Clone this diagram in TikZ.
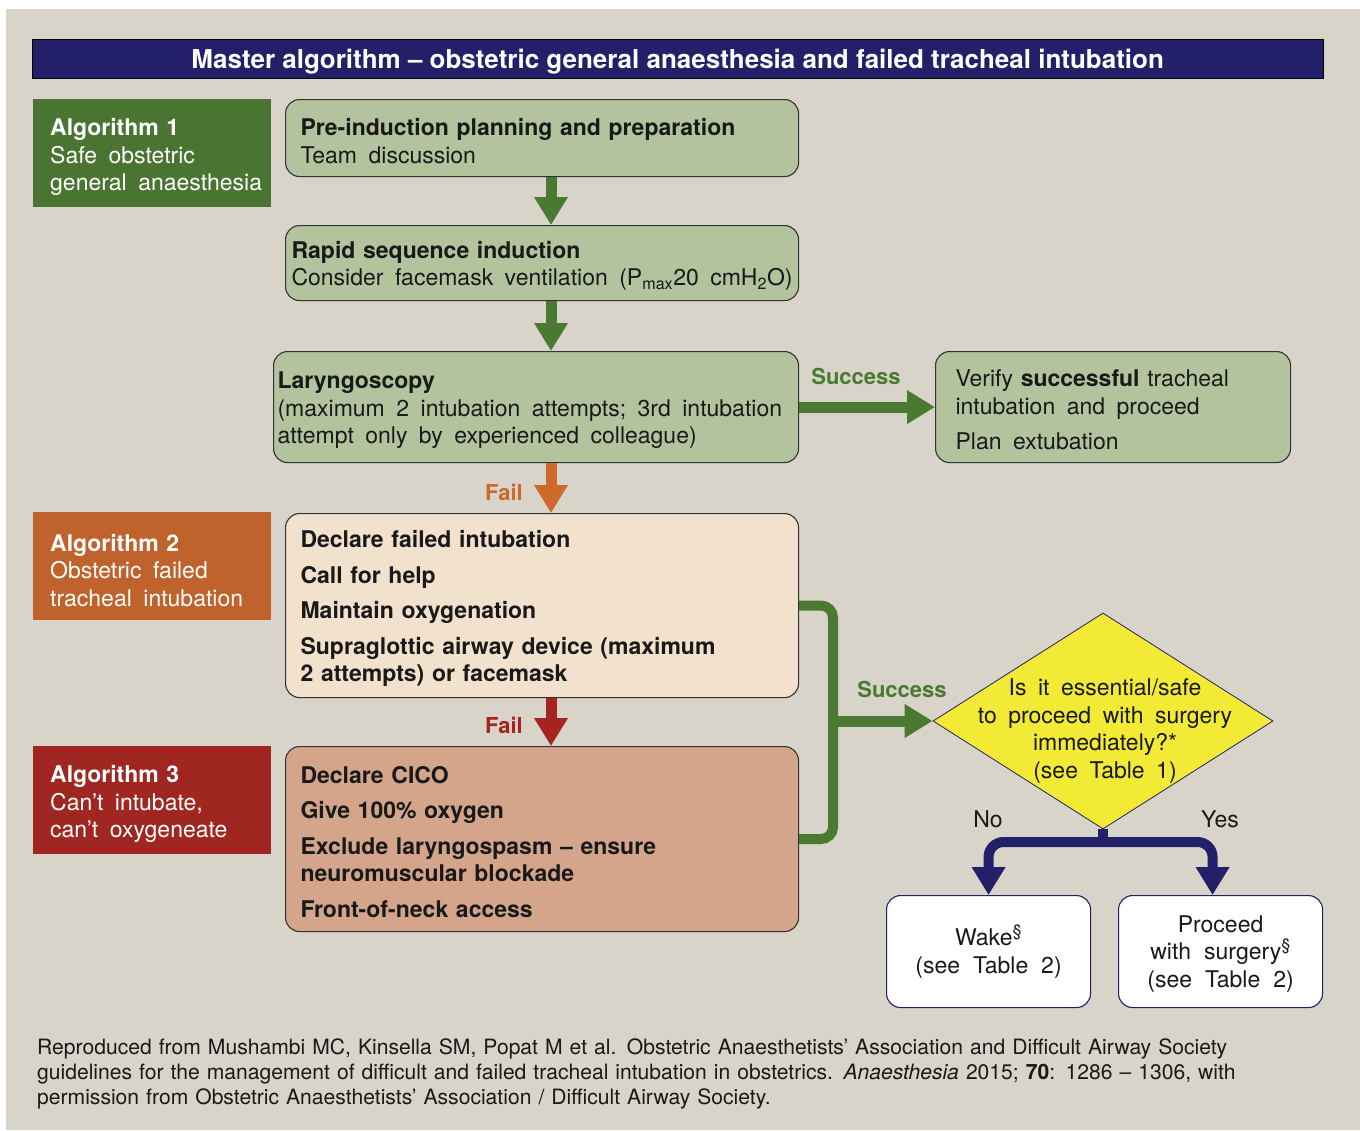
\documentclass[tikz,border=0pt]{standalone}
\usepackage{fontspec}
\setmainfont{TeX Gyre Heros}
\usetikzlibrary{arrows.meta, shapes.geometric}

\definecolor{bgcol}{HTML}{D8D4C9}
\definecolor{navy}{HTML}{231F69}
\definecolor{algone}{HTML}{4A7432}
\definecolor{algtwo}{HTML}{C0622B}
\definecolor{algthree}{HTML}{A02622}
\definecolor{lgreen}{HTML}{B2C39D}
\definecolor{peach}{HTML}{F2E1CD}
\definecolor{salmon}{HTML}{D4A58B}
\definecolor{yel}{HTML}{F2EA35}
\definecolor{garr}{HTML}{4A7A32}
\definecolor{orng}{HTML}{CC692B}
\definecolor{redd}{HTML}{A32420}

\newcommand{\bodyfont}{\fontsize{23}{27.5}\selectfont}
\newcommand{\ws}{\spaceskip=.5em plus .1em\relax}

\tikzset{
  pad/.style={execute at begin node={\leftskip=#1\relax}},
  titlebar/.style={anchor=north west, minimum width=1291, minimum height=39, inner sep=0pt,
    fill=navy, draw=black, text=white, text depth=0pt, font=\fontsize{26}{30}\selectfont\bfseries},
  algbox/.style={anchor=north west, text width=238, minimum height=108, inner xsep=0pt,
    text height=25pt, align=left, text=white, font=\bodyfont, pad=17pt},
  stepbox/.style={anchor=north west, inner xsep=0pt, inner ysep=2pt, text height=23pt, align=left,
    draw=black!80, line width=1.1pt, rounded corners=14pt, text=black!90, font=\bodyfont},
  endbox/.style={anchor=north west, text width=204, minimum height=112, inner xsep=0pt,
    text height=21pt, align=center, draw=navy, line width=1.1pt, fill=white, rounded corners=14pt,
    text=black!90, font=\bodyfont},
  lab/.style={font=\fontsize{22}{26}\selectfont\bfseries},
  fat/.style={line width=11pt, -{Triangle[width=32pt, length=28pt]}},
  rail/.style={line width=10pt, rounded corners=12pt}
}

\begin{document}
\begin{tikzpicture}[x=1pt, y=-1pt]
  \useasboundingbox (0,0) rectangle (1360,1130);
  \fill[bgcol] (6,9) rectangle (1360,1130);

  % Title:
  \node[titlebar] (head) at (32,39) {Master algorithm -- obstetric general anaesthesia and failed tracheal intubation};

  % Algorithm labels:
  \node[algbox, fill=algone] (alg1) at (33,99) {\textbf{Algorithm 1}\\ \ws Safe obstetric\\ general anaesthesia};
  \node[algbox, fill=algtwo] (alg2) at (33,512) {\textbf{Algorithm 2}\\ \ws Obstetric failed\\ tracheal intubation};
  \node[algbox, fill=algthree] (alg3) at (33,746) {\textbf{Algorithm 3}\\ \ws Can’t intubate,\\ can’t oxygeneate};

  % Main column:
  \node[stepbox, fill=lgreen, text width=513, minimum height=77, pad=15pt] (pre) at (285,99)
    {\textbf{Pre-induction planning and preparation}\\ \ws Team discussion};
  \node[stepbox, fill=lgreen, text width=513, minimum height=75, pad=6pt] (rsi) at (285,225)
    {\textbf{Rapid sequence induction}\\ \ws Consider facemask ventilation (P\textsubscript{max}20 cmH\textsubscript{2}O)};
  \node[stepbox, fill=lgreen, text width=525, minimum height=111, pad=4pt] (lar) at (273,351)
    {\textbf{Laryngoscopy}\\ \ws (maximum 2 intubation attempts; 3rd intubation\\ attempt only by experienced colleague)};
  \node[stepbox, fill=lgreen, text width=355, minimum height=111, pad=20pt] (ver) at (935,351)
    {Verify \textbf{successful} tracheal\\ \ws intubation and proceed\\[8pt] Plan extubation};
  \node[stepbox, fill=peach, text width=513, minimum height=184, pad=15pt, font=\bodyfont\bfseries] (decl) at (285,513)
    {Declare failed intubation\\[8pt] Call for help\\[8pt] Maintain oxygenation\\[8pt]
     Supraglottic airway device (maximum\\ 2 attempts) or facemask};
  \node[stepbox, fill=salmon, text width=513, minimum height=185, pad=15pt, font=\bodyfont\bfseries] (cico) at (285,746)
    {Declare CICO\\[8pt] Give 100\% oxygen\\[8pt] Exclude laryngospasm -- ensure\\ neuromuscular blockade\\[8pt]
     Front-of-neck access};

  % Decision:
  \node[diamond, draw=navy, line width=0.8pt, fill=yel, minimum width=340, minimum height=216, inner sep=0pt] (dia) at (1103,721) {};
  \node[align=center, font=\bodyfont\ws, text=black!90] (ask) at (1105,731)
    {Is it essential/safe\\ to proceed with surgery\\ immediately?*\\ (see Table 1)};
  \node[endbox] (wake) at (886,895) {\ws Wake\textsuperscript{\S}\\ (see Table 2)};
  \node[endbox] (proc) at (1118,895) {\ws Proceed\\ with surgery\textsuperscript{\S}\\ (see Table 2)};

  % Edge labels:
  \node[lab, text=garr] (succ1) at (856,376) {Success};
  \node[lab, text=orng] (fail1) at (504,492) {Fail};
  \node[lab, text=redd] (fail2) at (504,725) {Fail};
  \node[lab, text=garr] (succ2) at (902,689) {Success};
  \node[font=\bodyfont, text=black!90] (no) at (988,819) {No};
  \node[font=\bodyfont, text=black!90] (yes) at (1220,819) {Yes};

  % Arrows:
  \coordinate (axis) at (551,0);
  \coordinate (side) at (833,0);
  \coordinate (fork) at (1103,842);
  \draw[fat, garr] (pre.south -| axis) -- (rsi.north -| axis);
  \draw[fat, garr] (rsi.south -| axis) -- (lar.north -| axis);
  \draw[fat, garr] (lar.east) -- (ver.west);
  \draw[fat, orng] (lar.south -| axis) -- (decl.north -| axis);
  \draw[fat, redd] (decl.south -| axis) -- (cico.north -| axis);
  \draw[rail, garr] (decl.east) -| (side |- cico.east) -- (cico.east);
  \draw[fat, garr] (side |- dia.west) -- (dia.west);
  \draw[line width=10pt, navy] (dia.south) -- (fork);
  \draw[fat, navy, line width=10pt, rounded corners=15pt] (fork) -| (wake.north);
  \draw[fat, navy, line width=10pt, rounded corners=15pt] (fork) -| ([xshift=-8pt]proc.north);

  % Source note:
  \node[anchor=base west, text width=1300, align=left, inner sep=0pt,
    font=\fontsize{21.1}{25.3}\selectfont, text=black!90] (credit) at (37,1054)
    {Reproduced from Mushambi MC, Kinsella SM, Popat M et al. Obstetric Anaesthetists’ Association and Difficult Airway Society\\
     guidelines for the management of difficult and failed tracheal intubation in obstetrics. \textit{Anaesthesia} 2015; \textbf{70}: 1286 -- 1306, with\\
     permission from Obstetric Anaesthetists’ Association / Difficult Airway Society.};
\end{tikzpicture}
\end{document}
